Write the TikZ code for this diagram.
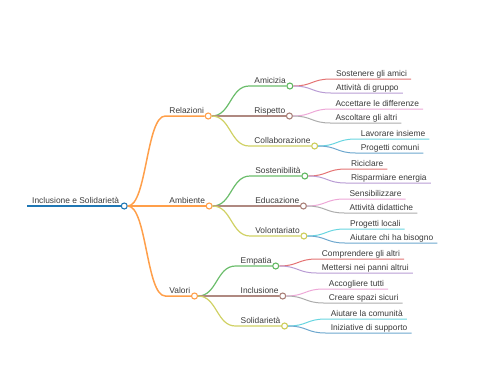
\documentclass[tikz,border=0pt]{standalone}
\usepackage{fontspec}
\setmainfont{Liberation Sans}
\usetikzlibrary{calc}
\definecolor{ink}{HTML}{3A3A3A}
\definecolor{cblue}{HTML}{1F77B4}
\definecolor{corange}{HTML}{FF7F0E}
\definecolor{cgreen}{HTML}{2CA02C}
\definecolor{cred}{HTML}{D62728}
\definecolor{cpurple}{HTML}{9467BD}
\definecolor{cbrown}{HTML}{8C564B}
\definecolor{cpink}{HTML}{E377C2}
\definecolor{cgrey}{HTML}{7F7F7F}
\definecolor{colive}{HTML}{BCBD22}
\definecolor{ccyan}{HTML}{17BECF}

\begin{document}
\begin{tikzpicture}[
  x=1pt,y=-1pt,
  lbl/.style={anchor=base west,inner sep=0pt,text=ink,
    font=\fontsize{8.4}{10}\selectfont},
  dot/.style={circle,draw=#1,fill=white,inner sep=0pt,minimum size=6pt,
    line width=1.1pt},
  lvlone/.style={draw=corange!75,line width=1.5pt},
  lvltwo/.style={line width=1.2pt},
  leaf/.style={line width=1pt}
]
  \useasboundingbox (0,0) rectangle (480,384);

  % root
  \coordinate (root-s) at (27,206);
  \node[lbl] (rootL) at (32,203) {Inclusione e Solidarietà};
  \node[dot=cblue,xshift=5pt] (root) at (rootL.base east |- root-s) {};
  \draw[cblue,line width=1.8pt] (root-s) -- (root.west);

  % first level
  \foreach \nm/\y/\txt in {rel/116/Relazioni,amb/206/Ambiente,val/296/Valori}{
    \coordinate[xshift=41pt] (\nm-s) at (root |- 0,\y);
    \node[lbl,xshift=45pt,yshift=3pt] (\nm L) at (root |- 0,\y) {\txt};
    \node[dot=corange!75,xshift=4pt] (\nm) at (\nm L.base east |- \nm-s) {};
    \draw[lvlone] (root.east) .. controls +(19,0) and +(-19,0) .. (\nm-s)
      -- (\nm.west);
  }

  % second level
  \foreach \nm/\p/\y/\txt/\col in {
      ami/rel/86/Amicizia/cgreen, ris/rel/116/Rispetto/cbrown,
      col/rel/146/Collaborazione/colive,
      sos/amb/176/Sostenibilità/cgreen, edu/amb/206/Educazione/cbrown,
      vol/amb/236/Volontariato/colive,
      emp/val/266/Empatia/cgreen, inc/val/296/Inclusione/cbrown,
      sol/val/326/Solidarietà/colive}{
    \coordinate[xshift=41pt] (\nm-s) at (\p |- 0,\y);
    \node[lbl,xshift=46pt,yshift=3pt] (\nm L) at (\p |- 0,\y) {\txt};
    \node[dot=\col!75,xshift=4pt] (\nm) at (\nm L.base east |- \nm-s) {};
    \draw[lvltwo,draw=\col!70] (\p.east) .. controls +(19,0) and +(-19,0) ..
      (\nm-s) -- (\nm.west);
  }

  % leaves
  \foreach \nm/\p/\y/\txt/\col in {
      sga/ami/79/Sostenere gli amici/cred, adg/ami/93/Attività di gruppo/cpurple,
      ald/ris/109/Accettare le differenze/cpink, gla/ris/123/Ascoltare gli altri/cgrey,
      lin/col/139/Lavorare insieme/ccyan, pco/col/153/Progetti comuni/cblue,
      ric/sos/169/Riciclare/cred, ren/sos/183/Risparmiare energia/cpurple,
      sen/edu/199/Sensibilizzare/cpink, did/edu/213/Attività didattiche/cgrey,
      plo/vol/229/Progetti locali/ccyan, chb/vol/243/Aiutare chi ha bisogno/cblue,
      cga/emp/259/Comprendere gli altri/cred, mpa/emp/273/Mettersi nei panni altrui/cpurple,
      act/inc/289/Accogliere tutti/cpink, css/inc/303/Creare spazi sicuri/cgrey,
      alc/sol/319/Aiutare la comunità/ccyan, ids/sol/333/Iniziative di supporto/cblue}{
    \coordinate[xshift=41pt] (\nm-s) at (\p |- 0,\y);
    \node[lbl,xshift=46pt,yshift=3pt] (\nm) at (\p |- 0,\y) {\txt};
    \draw[leaf,draw=\col!65] (\p.east) .. controls +(19,0) and +(-19,0) ..
      (\nm-s) -- (\nm.base east |- \nm-s) -- ++(4,0);
  }
\end{tikzpicture}
\end{document}
